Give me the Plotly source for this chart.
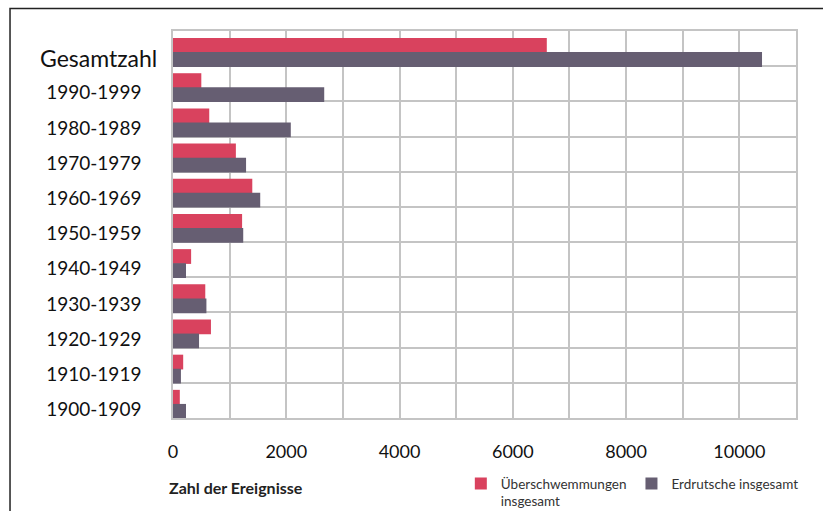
import plotly.graph_objects as go

categories = ["1900-1909", "1910-1919", "1920-1929", "1930-1939", "1940-1949",
              "1950-1959", "1960-1969", "1970-1979", "1980-1989", "1990-1999", "Gesamtzahl"]
floods = [120, 180, 670, 570, 320, 1220, 1400, 1110, 640, 500, 6600]
landslides = [230, 140, 460, 590, 230, 1240, 1540, 1290, 2080, 2670, 10400]
x_ticks = [0, 2000, 4000, 6000, 8000, 10000]

ticktext = [c if c != "Gesamtzahl" else "" for c in categories]

fig = go.Figure()
fig.add_trace(go.Bar(y=categories, x=floods, orientation="h", name="Überschwemmungen<br>insgesamt",
                     marker=dict(color="#D9425E", line=dict(width=0)), offset=-0.12, width=0.42))
fig.add_trace(go.Bar(y=categories, x=landslides, orientation="h", name="Erdrutsche insgesamt",
                     marker=dict(color="#665E72", line=dict(width=0)), offset=-0.52, width=0.42))

grid = "#c4c4c4"
fig.update_layout(
    width=823, height=511,
    margin=dict(l=173, r=27, t=31, b=93, autoexpand=False),
    paper_bgcolor="white", plot_bgcolor="white",
    font=dict(family="Lato", color="#111"),
    barmode="overlay",
    showlegend=True,
    legend=dict(orientation="h", x=0.462, y=-0.13, xanchor="left", yanchor="top",
                font=dict(size=13.5, color="#333"), valign="top", itemwidth=30,
                tracegroupgap=0, traceorder="normal", bgcolor="rgba(0,0,0,0)"),
    xaxis=dict(range=[0, 11000], tickvals=list(range(0, 11001, 1000)),
               ticktext=[str(v) if v in x_ticks else "" for v in range(0, 11001, 1000)],
               showgrid=True, gridcolor=grid, gridwidth=1.5, zeroline=False,
               showline=True, linecolor=grid, linewidth=1.5, mirror=True,
               tickfont=dict(size=18, color="#111"), ticks="", ticklabelstandoff=17),
    yaxis=dict(type="category", categoryorder="array", categoryarray=categories,
               tickvals=categories, ticktext=ticktext, range=[-0.5, 10.5],
               tickson="boundaries", showgrid=True, gridcolor=grid, gridwidth=1.5,
               showline=True, linecolor=grid, linewidth=1.5, mirror=True,
               tickfont=dict(size=19, color="#111"), ticks="", ticklabelstandoff=26,
               ticklabelshift=9),
)

fig.add_annotation(text="Gesamtzahl", xref="paper", yref="y", x=-0.0225, y="Gesamtzahl",
                   xanchor="right", yanchor="middle", yshift=-9, showarrow=False,
                   font=dict(size=23, color="#111"))

fig.add_annotation(text="<b>Zahl der Ereignisse</b>", xref="paper", yref="paper",
                   x=-0.009, y=-0.18, xanchor="left", yanchor="middle", showarrow=False,
                   font=dict(size=16, color="#222"))

fig.add_shape(type="rect", xref="paper", yref="paper", x0=-0.2616, x1=1.3587, y0=-0.3, y1=1.0581,
              line=dict(color="#222", width=1.5), layer="above")

fig.write_html("out.html")
